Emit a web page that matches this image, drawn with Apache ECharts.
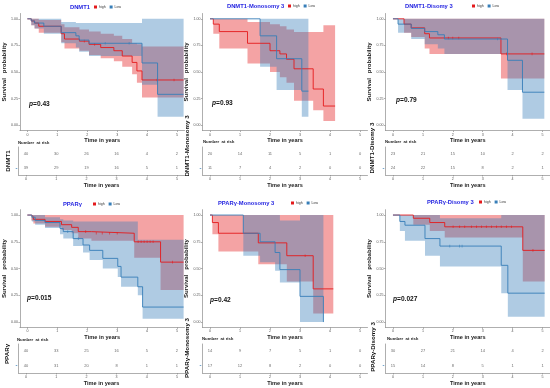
<!DOCTYPE html>
<html>
<head>
<meta charset="utf-8">
<script src="https://cdn.jsdelivr.net/npm/echarts@6/dist/echarts.min.js"></script>
<style>
html,body{margin:0;padding:0;background:#fff;}
#chart{width:550px;height:388px;}
</style>
</head>
<body>
<div id="chart"></div>
<script>
// ---------------- DATA ----------------
const xTicks = [0, 1, 2, 3, 4, 5];
const yTicks = [0, 0.25, 0.5, 0.75, 1];
const tableTimes = [0, 1, 2, 3, 4, 5];
const strataNames = ['high', 'Low'];
const panelTitles = ['DNMT1', 'DNMT1-Monosomy 3', 'DNMT1-Disomy 3', 'PPARγ', 'PPARγ-Monosomy 3', 'PPARγ-Disomy 3'];
const pValues = ['0.43', '0.93', '0.79', '0.015', '0.42', '0.027'];

// Panel 1: DNMT1
const dnmt1HighT  = [0, 0.13, 0.24, 0.38, 1.13, 1.24, 1.74, 2.06, 2.45, 2.89, 3.17, 3.5, 3.66, 3.83];
const dnmt1HighS  = [1, 0.98, 0.96, 0.93, 0.86, 0.81, 0.79, 0.76, 0.73, 0.70, 0.65, 0.59, 0.51, 0.425];
const dnmt1HighLo = [1, 0.94, 0.91, 0.87, 0.78, 0.72, 0.70, 0.66, 0.63, 0.60, 0.55, 0.48, 0.40, 0.26];
const dnmt1HighHi = [1, 1, 1, 0.99, 0.95, 0.92, 0.90, 0.88, 0.86, 0.84, 0.81, 0.77, 0.76, 0.74];
const dnmt1HighEnd = 5.22;
const dnmt1HighCens = [1.9, 2.25, 4.33, 4.9];
const dnmt1LowT  = [0, 0.13, 0.24, 0.55, 1.13, 1.62, 1.73, 2.06, 3.83, 4.35];
const dnmt1LowS  = [1, 0.98, 0.96, 0.93, 0.87, 0.84, 0.80, 0.77, 0.585, 0.29];
const dnmt1LowLo = [1, 0.94, 0.91, 0.86, 0.77, 0.73, 0.69, 0.65, 0.38, 0.08];
const dnmt1LowHi = [1, 1, 1, 1, 0.97, 0.96, 0.96, 0.96, 1, 1];
const dnmt1LowEnd = 5.22;
const dnmt1LowCens = [2.6, 3.4];
const dnmt1RiskHigh = [40, 30, 26, 16, 4, 2];
const dnmt1RiskLow  = [39, 29, 19, 16, 5, 1];

// Panel 2: DNMT1-Monosomy 3
const dm3HighT  = [0, 0.11, 0.31, 1.25, 2.0, 2.33, 2.55, 2.8, 3.44, 3.78];
const dm3HighS  = [1, 0.95, 0.88, 0.77, 0.70, 0.67, 0.62, 0.53, 0.34, 0.18];
const dm3HighLo = [1, 0.86, 0.72, 0.58, 0.50, 0.45, 0.40, 0.23, 0.14, 0.04];
const dm3HighHi = [1, 1, 1, 0.97, 0.95, 0.93, 0.90, 0.875, 0.875, 0.94];
const dm3HighEnd = 4.17;
const dm3HighCens = [];
const dm3LowT  = [0, 1.67, 2.22, 3.06];
const dm3LowS  = [1, 0.84, 0.625, 0.32];
const dm3LowLo = [1, 0.55, 0.33, 0.08];
const dm3LowHi = [1, 1, 1, 1];
const dm3LowEnd = 3.28;
const dm3LowCens = [];
const dm3RiskHigh = [20, 14, 11, 5, 1, 0];
const dm3RiskLow  = [11, 7, 4, 2, 0, 0];

// Panel 3: DNMT1-Disomy 3
const dd3HighT  = [0, 0.37, 0.61, 1.06, 1.22, 3.61];
const dd3HighS  = [1, 0.95, 0.915, 0.86, 0.82, 0.67];
const dd3HighLo = [1, 0.87, 0.83, 0.72, 0.67, 0.44];
const dd3HighHi = [1, 1, 1, 1, 1, 1];
const dd3HighEnd = 5.06;
const dd3HighCens = [1.85, 2.0, 2.2, 3.8, 4.65];
const dd3LowT  = [0, 0.17, 0.61, 1.06, 1.5, 1.72, 3.83, 4.33];
const dd3LowS  = [1, 0.95, 0.91, 0.88, 0.85, 0.81, 0.61, 0.31];
const dd3LowLo = [1, 0.87, 0.81, 0.76, 0.72, 0.67, 0.33, 0.06];
const dd3LowHi = [1, 1, 1, 1, 1, 1, 1, 1];
const dd3LowEnd = 5.06;
const dd3LowCens = [3.5];
const dd3RiskHigh = [23, 21, 15, 10, 2, 2];
const dd3RiskLow  = [24, 22, 15, 8, 2, 1];

// Panel 4: PPARγ
const pparHighT  = [0, 0.13, 0.2, 0.59, 1.14, 1.48, 1.7, 2.14, 3.57, 4.45];
const pparHighS  = [1, 0.985, 0.96, 0.94, 0.91, 0.885, 0.845, 0.83, 0.75, 0.56];
const pparHighLo = [1, 0.95, 0.92, 0.89, 0.86, 0.83, 0.78, 0.76, 0.60, 0.30];
const pparHighHi = [1, 1, 1, 1, 1, 1, 1, 1, 1, 1];
const pparHighEnd = 5.22;
const pparHighCens = [1.95, 2.3, 2.5, 2.75, 3.0, 3.7, 3.8, 3.9, 4.0, 4.1, 4.2, 4.85];
const pparLowT  = [0, 0.15, 0.26, 0.59, 1.09, 1.2, 1.53, 1.86, 2.08, 2.52, 3.02, 3.13, 3.69, 3.85];
const pparLowS  = [1, 0.98, 0.95, 0.93, 0.875, 0.845, 0.78, 0.72, 0.67, 0.595, 0.52, 0.42, 0.33, 0.14];
const pparLowLo = [1, 0.94, 0.91, 0.88, 0.82, 0.78, 0.71, 0.65, 0.58, 0.50, 0.42, 0.33, 0.25, 0.03];
const pparLowHi = [1, 1, 1, 0.98, 0.96, 0.95, 0.94, 0.94, 0.94, 0.94, 0.94, 0.94, 0.77, 0.77];
const pparLowEnd = 5.22;
const pparLowCens = [1.35, 1.7];
const pparRiskHigh = [40, 33, 25, 16, 5, 2];
const pparRiskLow  = [40, 31, 20, 8, 1, 1];

// Panel 5: PPARγ-Monosomy 3
const pm3HighT  = [0, 0.08, 0.28, 1.61, 2.56, 3.44];
const pm3HighS  = [1, 0.93, 0.83, 0.74, 0.62, 0.31];
const pm3HighLo = [1, 0.82, 0.66, 0.54, 0.38, 0.08];
const pm3HighHi = [1, 1, 1, 1, 1, 1];
const pm3HighEnd = 4.11;
const pm3HighCens = [3.17];
const pm3LowT  = [0, 1.11, 1.67, 2.17, 2.33, 3.0, 3.78];
const pm3LowS  = [1, 0.83, 0.75, 0.65, 0.49, 0.24, 0];
const pm3LowLo = [1, 0.62, 0.56, 0.48, 0.37, 0.0, 0];
const pm3LowHi = [1, 1, 1, 1, 0.95, 1, 1];
const pm3LowEnd = 3.78;
const pm3LowCens = [];
const pm3RiskHigh = [14, 9, 7, 5, 1, 0];
const pm3RiskLow  = [17, 12, 8, 2, 0, 0];

// Panel 6: PPARγ-Disomy 3
const pd3HighT  = [0, 0.68, 1.23, 1.73, 4.34];
const pd3HighS  = [1, 0.97, 0.93, 0.89, 0.67];
const pd3HighLo = [1, 0.91, 0.85, 0.79, 0.38];
const pd3HighHi = [1, 1, 1, 1, 1];
const pd3HighEnd = 5.07;
const pd3HighCens = [2.01, 2.23, 2.4, 2.62, 2.79, 2.96, 3.12, 3.29, 3.46, 3.62, 3.79, 3.96, 4.68];
const pd3LowT  = [0, 0.23, 0.4, 1.07, 1.57, 3.62, 3.84];
const pd3LowS  = [1, 0.94, 0.905, 0.78, 0.71, 0.53, 0.27];
const pd3LowLo = [1, 0.85, 0.76, 0.62, 0.52, 0.27, 0.05];
const pd3LowHi = [1, 1, 1, 1, 0.97, 1, 1];
const pd3LowEnd = 5.07;
const pd3LowCens = [1.9, 2.23, 2.31];
const pd3RiskHigh = [30, 27, 21, 14, 4, 2];
const pd3RiskLow  = [15, 14, 8, 5, 1, 1];

// ---------------- BUILD ----------------
function curve(T, S, lo, hi, end, cens) { return {T, S, lo, hi, end, cens}; }
const panels = [
  {high: curve(dnmt1HighT, dnmt1HighS, dnmt1HighLo, dnmt1HighHi, dnmt1HighEnd, dnmt1HighCens),
   low: curve(dnmt1LowT, dnmt1LowS, dnmt1LowLo, dnmt1LowHi, dnmt1LowEnd, dnmt1LowCens), riskH: dnmt1RiskHigh, riskL: dnmt1RiskLow},
  {high: curve(dm3HighT, dm3HighS, dm3HighLo, dm3HighHi, dm3HighEnd, dm3HighCens),
   low: curve(dm3LowT, dm3LowS, dm3LowLo, dm3LowHi, dm3LowEnd, dm3LowCens), riskH: dm3RiskHigh, riskL: dm3RiskLow},
  {high: curve(dd3HighT, dd3HighS, dd3HighLo, dd3HighHi, dd3HighEnd, dd3HighCens),
   low: curve(dd3LowT, dd3LowS, dd3LowLo, dd3LowHi, dd3LowEnd, dd3LowCens), riskH: dd3RiskHigh, riskL: dd3RiskLow},
  {high: curve(pparHighT, pparHighS, pparHighLo, pparHighHi, pparHighEnd, pparHighCens),
   low: curve(pparLowT, pparLowS, pparLowLo, pparLowHi, pparLowEnd, pparLowCens), riskH: pparRiskHigh, riskL: pparRiskLow},
  {high: curve(pm3HighT, pm3HighS, pm3HighLo, pm3HighHi, pm3HighEnd, pm3HighCens),
   low: curve(pm3LowT, pm3LowS, pm3LowLo, pm3LowHi, pm3LowEnd, pm3LowCens), riskH: pm3RiskHigh, riskL: pm3RiskLow},
  {high: curve(pd3HighT, pd3HighS, pd3HighLo, pd3HighHi, pd3HighEnd, pd3HighCens),
   low: curve(pd3LowT, pd3LowS, pd3LowLo, pd3LowHi, pd3LowEnd, pd3LowCens), riskH: pd3RiskHigh, riskL: pd3RiskLow}
];

const RED = '#E41A1C', BLUE = '#377EB8';
const RED_BAND = 'rgba(228,26,28,0.40)', BLUE_BAND = 'rgba(55,126,184,0.40)';
const FONT = 'Liberation Sans';

// layout (pixels)
const colLeft = [18.5, 202.5, 385.5];
const colWidth = [166, 165, 165];
const kmTop = [13.5, 209.7];
const kmHeight = [117, 117.7];
const tabTop = [147, 344];
const tabHeight = [28, 29];
const titlePos = [[70, 4], [227, 3], [405, 3], [63, 201], [218, 200], [427, 199]];
const legendPos = [[94, 5], [288, 4], [472, 4], [93, 202], [291, 201], [479, 200]];
const pPos = [[29, 100.5], [212, 99.5], [396, 96.5], [27, 294.5], [210, 296.5], [393, 295.5]];
const narPos = [[18, 140.5], [203, 139.5], [385, 139.5], [17, 337.5], [202, 336.5], [387, 336.5]];
const tabLabelPos = [[8, 161], [187, 146], [372, 148], [7, 354], [187, 348], [373, 347]];

const grids = [], xAxes = [], yAxes = [], series = [], titles = [], legends = [], graphics = [];

function bandRender(c, color) {
  return function (params, api) {
    if (params.dataIndex !== 0) return null;
    const top = [], bot = [];
    for (let i = 0; i < c.T.length; i++) {
      const t1 = i + 1 < c.T.length ? c.T[i + 1] : c.end;
      top.push(api.coord([c.T[i], c.hi[i]]), api.coord([t1, c.hi[i]]));
      bot.push(api.coord([c.T[i], c.lo[i]]), api.coord([t1, c.lo[i]]));
    }
    return {type: 'polygon', shape: {points: top.concat(bot.reverse())}, style: {fill: color}};
  };
}
function lineData(c) {
  const d = c.T.map((t, i) => [t, c.S[i]]);
  d.push([c.end, c.S[c.S.length - 1]]);
  return d;
}
function survAt(c, t) {
  let v = c.S[0];
  for (let i = 0; i < c.T.length; i++) if (c.T[i] <= t) v = c.S[i];
  return v;
}

const axisLineStyle = {color: '#8c8c8c', width: 0.7};
const tickLabel = {fontSize: 3.6, color: '#555', fontFamily: FONT};

panels.forEach((p, k) => {
  const col = k % 3, row = Math.floor(k / 3);
  const gKM = 2 * k, gT = 2 * k + 1;
  grids.push({left: colLeft[col], width: colWidth[col], top: kmTop[row], height: kmHeight[row]});
  grids.push({left: colLeft[col], width: colWidth[col], top: tabTop[row], height: tabHeight[row]});

  const xCommon = {
    type: 'value', min: -0.25, max: 5.25,
    axisLine: {show: true, onZero: false, lineStyle: axisLineStyle},
    axisTick: {show: true, length: 1.5, customValues: xTicks, lineStyle: axisLineStyle},
    axisLabel: Object.assign({customValues: xTicks, margin: 2}, tickLabel),
    splitLine: {show: false},
    name: 'Time in years', nameLocation: 'middle', nameGap: 7,
    nameTextStyle: {fontSize: 5.6, fontWeight: 'bold', color: '#222', fontFamily: FONT}
  };
  xAxes.push(Object.assign({gridIndex: gKM}, xCommon));
  xAxes.push(Object.assign({gridIndex: gT}, xCommon));

  yAxes.push({
    gridIndex: gKM, type: 'value', min: -0.05, max: 1.05,
    axisLine: {show: true, onZero: false, lineStyle: axisLineStyle},
    axisTick: {show: true, length: 1.5, customValues: yTicks, lineStyle: axisLineStyle},
    axisLabel: Object.assign({customValues: yTicks, margin: 2, formatter: v => v.toFixed(2)}, tickLabel),
    splitLine: {show: false},
    name: 'Survival   probability', nameLocation: 'middle', nameGap: 9,
    nameTextStyle: {fontSize: 6, fontWeight: 'bold', color: '#222', fontFamily: FONT}
  });
  yAxes.push({
    gridIndex: gT, type: 'category', data: ['Low', 'high'],
    axisLine: {show: true, onZero: false, lineStyle: axisLineStyle},
    axisTick: {show: false},
    axisLabel: {
      margin: 1,
      formatter: v => v === 'high' ? '{r|-}' : '{b|-}',
      rich: {r: {color: RED, fontSize: 6, fontWeight: 'bold'}, b: {color: BLUE, fontSize: 6, fontWeight: 'bold'}}
    },
    splitLine: {show: false}
  });

  series.push({
    type: 'custom', name: 'high band', xAxisIndex: gKM, yAxisIndex: gKM, clip: true, silent: true,
    renderItem: bandRender(p.high, RED_BAND),
    data: p.high.T.map((t, i) => [t, p.high.S[i]]), encode: {x: 0, y: 1}, z: 1
  });
  series.push({
    type: 'custom', name: 'Low band', xAxisIndex: gKM, yAxisIndex: gKM, clip: true, silent: true,
    renderItem: bandRender(p.low, BLUE_BAND),
    data: p.low.T.map((t, i) => [t, p.low.S[i]]), encode: {x: 0, y: 1}, z: 2
  });
  [['high', p.high, RED, 3], ['Low', p.low, BLUE, 4]].forEach(([nm, c, col2, z]) => {
    series.push({
      type: 'line', name: nm, step: 'end', xAxisIndex: gKM, yAxisIndex: gKM, symbol: 'none',
      data: lineData(c), lineStyle: {color: col2, width: 0.9}, itemStyle: {color: col2}, z: z
    });
    series.push({
      type: 'scatter', name: nm + ' censor', xAxisIndex: gKM, yAxisIndex: gKM,
      symbol: 'rect', symbolSize: [0.7, 2.6], itemStyle: {color: col2}, silent: true, z: z,
      data: c.cens.map(t => [t, survAt(c, t)])
    });
  });
  [['high', p.riskH], ['Low', p.riskL]].forEach(([nm, arr]) => {
    series.push({
      type: 'scatter', name: nm + ' risk', xAxisIndex: gT, yAxisIndex: gT, symbolSize: 1,
      itemStyle: {color: 'transparent'},
      data: tableTimes.map((t, i) => [t, nm, arr[i]]),
      label: {show: true, position: 'inside', formatter: q => String(q.value[2]), fontSize: 4, color: '#444', fontFamily: FONT},
      silent: true
    });
  });

  titles.push({
    text: panelTitles[k], left: titlePos[k][0], top: titlePos[k][1], padding: 0,
    textStyle: {color: '#1F1FE0', fontSize: 5.8, fontWeight: 'bold', fontFamily: FONT}
  });
  titles.push({
    text: '{i|p}{n|=' + pValues[k] + '}', left: pPos[k][0], top: pPos[k][1], padding: 0,
    textStyle: {rich: {
      i: {fontStyle: 'italic', fontWeight: 'bold', fontSize: 6.6, color: '#111', fontFamily: FONT},
      n: {fontWeight: 'bold', fontSize: 6.6, color: '#111', fontFamily: FONT}
    }}
  });
  titles.push({
    text: 'Number  at risk', left: narPos[k][0], top: narPos[k][1], padding: 0,
    textStyle: {fontSize: 4.3, fontWeight: 'bold', color: '#222', fontFamily: FONT}
  });
  legends.push({
    data: strataNames, left: legendPos[k][0], top: legendPos[k][1], padding: 0,
    orient: 'horizontal', icon: 'rect', itemWidth: 3, itemHeight: 3, itemGap: 4,
    textStyle: {fontSize: 3.5, color: '#333', padding: [0, 0, 0, -3], fontFamily: FONT},
    selectedMode: false
  });
  graphics.push({
    type: 'text', x: tabLabelPos[k][0], y: tabLabelPos[k][1], rotation: Math.PI / 2,
    style: {text: panelTitles[k], fontSize: 6.2, fontWeight: 'bold', fill: '#111', align: 'center', verticalAlign: 'middle', fontFamily: FONT}
  });
});

const chart = echarts.init(document.getElementById('chart'), null, {renderer: 'canvas'});
chart.setOption({
  animation: false,
  backgroundColor: '#fff',
  textStyle: {fontFamily: FONT},
  title: titles,
  legend: legends,
  grid: grids,
  xAxis: xAxes,
  yAxis: yAxes,
  series: series,
  graphic: graphics
});
</script>
</body>
</html>
